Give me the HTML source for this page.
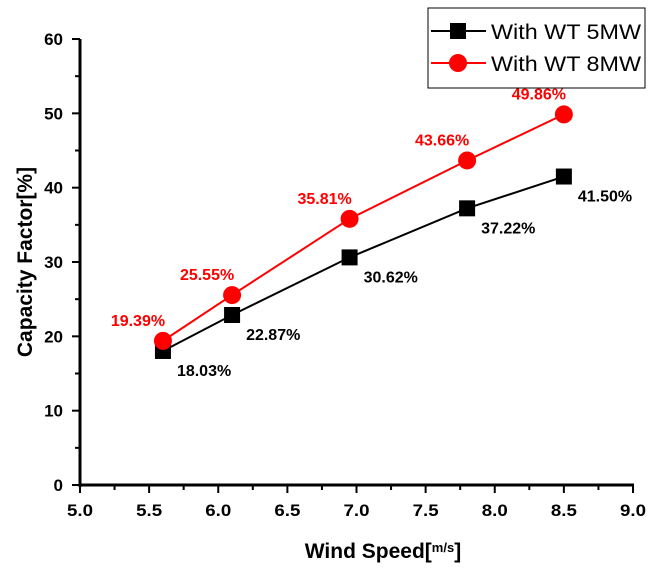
<!DOCTYPE html>
<html><head><meta charset="utf-8"><style>
body{margin:0;background:#fff}
svg{font-family:"Liberation Sans",sans-serif;font-weight:bold}
</style></head><body>
<svg width="655" height="576" viewBox="0 0 655 576">
<g id="axes"></g><g id="plot"></g>
<text x="0" y="0" transform="translate(32,262) rotate(-90)" text-anchor="middle" font-size="21">Capacity Factor[%]</text>
<text x="383" y="558" text-anchor="middle" font-size="21">Wind Speed[<tspan font-size="13" dy="-6">m</tspan><tspan font-size="13">/s</tspan><tspan dy="6">]</tspan></text>
<g>
<rect x="428" y="8" width="217" height="80" fill="#fff" stroke="#000" stroke-width="1"/>
<line x1="431" y1="31" x2="486" y2="31" stroke="#000" stroke-width="2"/>
<rect x="450" y="23" width="16" height="16" fill="#000"/>
<text x="491" y="39" font-size="21" font-weight="normal" textLength="150" lengthAdjust="spacingAndGlyphs">With WT 5MW</text>
<line x1="431" y1="63" x2="486" y2="63" stroke="red" stroke-width="2"/>
<circle cx="458" cy="63" r="9" fill="red"/>
<text x="491" y="71" font-size="21" font-weight="normal" textLength="150" lengthAdjust="spacingAndGlyphs">With WT 8MW</text>
</g>
</svg>
<script>
const xs=[5.6,6.1,6.95,7.8,8.5];
const s5=[18.03,22.87,30.62,37.22,41.50];
const s8=[19.39,25.55,35.81,43.66,49.86];
const xTicks=["5.0","5.5","6.0","6.5","7.0","7.5","8.0","8.5","9.0"];
const yTicks=["0","10","20","30","40","50","60"];
const X=v=>80+(v-5)*138.25, Y=v=>485-v*7.433;
const NS="http://www.w3.org/2000/svg";
function mk(t,a,p){const e=document.createElementNS(NS,t);for(const k in a)e.setAttribute(k,a[k]);p.appendChild(e);return e;}
const ax=document.getElementById('axes'),pl=document.getElementById('plot');
let e=mk('line',{x1:80,y1:39,x2:80,y2:487,stroke:'#000','stroke-width':3},ax);


e=mk('line',{x1:79,y1:485,x2:634,y2:485,stroke:'#000','stroke-width':3},ax);


for(let i=0;i<=16;i++){const v=5+i*0.25;mk('line',{x1:X(v),x2:X(v),y1:485,y2:i%2?490:493,stroke:'#000','stroke-width':2},ax);}
xTicks.forEach(t=>{e=mk('text',{x:X(+t),y:516,'text-anchor':'middle','font-size':17,textLength:26,lengthAdjust:'spacingAndGlyphs'},ax);e.textContent=t;

});
for(let i=0;i<=12;i++){const v=i*5;mk('line',{x1:i%2?75:72,x2:80,y1:Y(v),y2:Y(v),stroke:'#000','stroke-width':2},ax);}
yTicks.forEach(t=>{e=mk('text',{x:63,y:Y(+t)+6,'text-anchor':'end','font-size':17},ax);e.textContent=t;

});
function series(vals,col,name){
 e=mk('polyline',{points:xs.map((x,i)=>X(x)+','+Y(vals[i])).join(' '),fill:'none',stroke:col,'stroke-width':2},pl);
 
 
}
series(s5,'#000','series-5mw');series(s8,'red','series-8mw');
xs.forEach((x,i)=>{
 e=mk('rect',{x:X(x)-8,y:Y(s5[i])-8,width:16,height:16,fill:'#000'},pl);
 
 
 e=mk('text',{x:X(x)+14,y:Y(s5[i])+25,'font-size':16,fill:'#000'},pl);e.textContent=s5[i].toFixed(2)+'%';
 
 
 e=mk('circle',{cx:X(x),cy:Y(s8[i]),r:9,fill:'red'},pl);
 
 
 e=mk('text',{x:X(x)-25,y:Y(s8[i])-15,'font-size':16,fill:'red','text-anchor':'middle'},pl);e.textContent=s8[i].toFixed(2)+'%';
 
 
});
</script>
</body></html>
